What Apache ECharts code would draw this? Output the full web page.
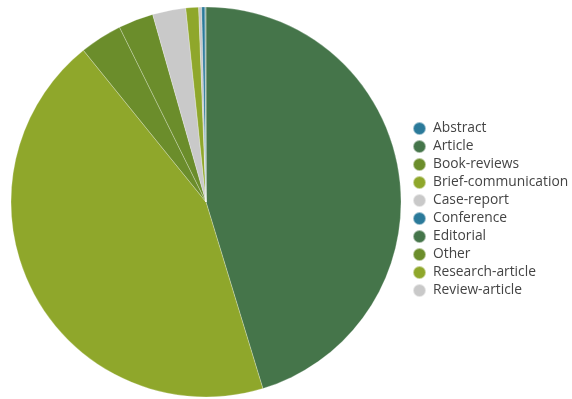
<!DOCTYPE html>
<html>
<head>
<meta charset="utf-8">
<script src="https://cdn.jsdelivr.net/npm/echarts@6/dist/echarts.min.js"></script>
<style>
  html, body { margin: 0; padding: 0; background: #fff; }
  #chart { width: 572px; height: 399px; }
</style>
</head>
<body>
<div id="chart"></div>
<script>
// legend order (alphabetical) and the colour of each category
const categories = ["Abstract", "Article", "Book-reviews", "Brief-communication", "Case-report",
  "Conference", "Editorial", "Other", "Research-article", "Review-article"];
const colors = ["#2b7a9a", "#45754a", "#6b8d2b", "#8fa72b", "#c9c9c9",
  "#2b7a9a", "#45754a", "#6b8d2b", "#8fa72b", "#c9c9c9"];

// slices in drawing order (largest first), values in percent
const sliceNames = ["Article", "Research-article", "Other", "Book-reviews", "Review-article",
  "Brief-communication", "Case-report", "Abstract", "Conference", "Editorial"];
const sliceValues = [45.2, 43.8, 3.5, 2.9, 2.75, 1.05, 0.25, 0.26, 0.05, 0.04];

const chart = echarts.init(document.getElementById("chart"));

let option = {
  animation: false,
  legend: {
    orient: "vertical",
    left: 412,
    top: 121,
    padding: 0,
    icon: "circle",
    itemWidth: 13,
    itemHeight: 13,
    itemGap: 3,
    textStyle: {
      fontFamily: "Open Sans",
      fontSize: 13.8,
      lineHeight: 13,
      color: "#444",
      padding: [0, 0, 0, 2]
    },
    data: categories
  },
  series: [{
    type: "pie",
    center: [206, 202],
    radius: 195,
    startAngle: 90,
    clockwise: true,
    label: { show: false },
    labelLine: { show: false },
    itemStyle: { borderColor: "rgba(255,255,255,0.5)", borderWidth: 0.5 },
    emphasis: { scale: false },
    data: sliceNames.map((name, i) => ({
      name: name,
      value: sliceValues[i],
      itemStyle: { color: colors[categories.indexOf(name)] }
    }))
  }]
};

chart.setOption(option);
</script>
</body>
</html>
